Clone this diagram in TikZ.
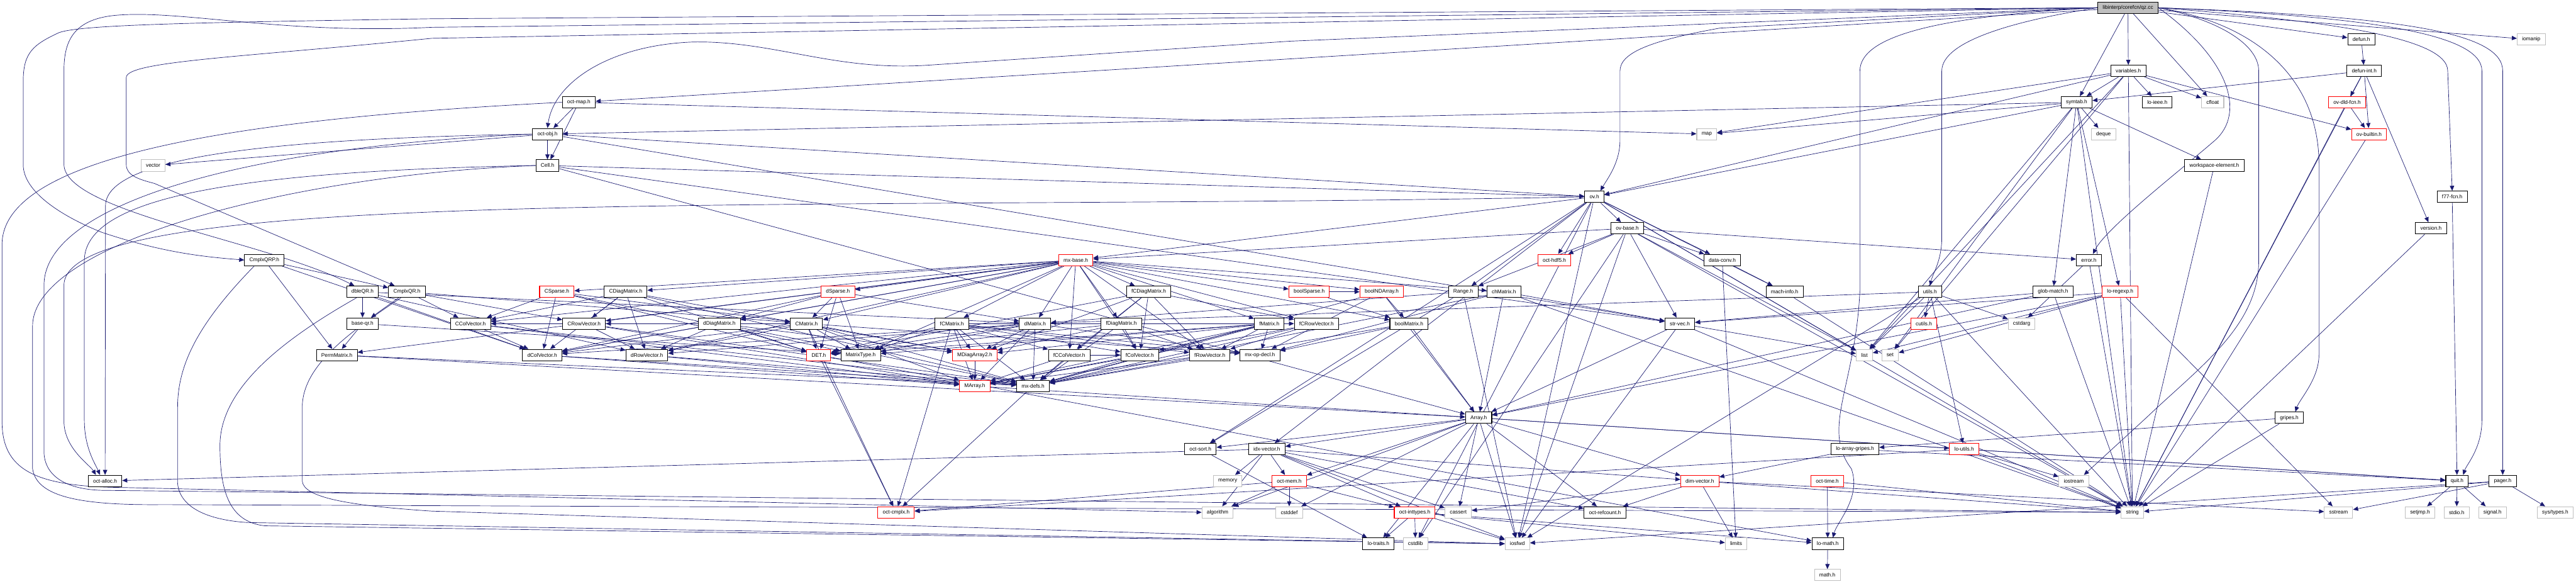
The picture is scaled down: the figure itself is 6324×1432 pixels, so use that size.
\documentclass[tikz,border=0pt]{standalone}
\usepackage{fontspec}
\setmainfont{Liberation Sans}
\usetikzlibrary{arrows.meta}
\pgfdeclarelayer{edgelayer}
\pgfsetlayers{edgelayer,main}
\definecolor{edgeblue}{HTML}{191970}
\definecolor{extgray}{HTML}{BFBFBF}
\newcommand\myedges[2]{\foreach \t in {#2} {\draw[edge] (#1) -- (\t);}}
\begin{document}
\begin{tikzpicture}[x=0.02cm,y=-0.02cm,
  box/.style={draw=black,line width=0.9pt,fill=white,minimum height=0.56cm,inner xsep=0.24cm,inner ysep=0pt,font=\fontsize{7.3}{8}\selectfont},
  trunc/.style={box,draw=red},
  ext/.style={box,draw=extgray},
  root/.style={box,fill=extgray},
  edge/.style={draw=edgeblue,line width=0.6pt,-{Triangle[length=7pt,width=6pt]}}]
\useasboundingbox (0,0) rectangle (6324,1432);
% row 0-7
\node[root] (qz) at (5224,19) {libinterp/corefcn/qz.cc};
\node[box] (defun) at (5797,97) {defun.h};
\node[ext] (iomanip) at (6214,97) {iomanip};
\node[box] (variables) at (5225,174) {variables.h};
\node[box] (defunint) at (5804,174) {defun-int.h};
\node[box] (octmap) at (1421,251) {oct-map.h};
\node[box] (symtab) at (5098,251) {symtab.h};
\node[box] (loieee) at (5296,251) {lo-ieee.h};
\node[ext] (cfloat) at (5432,251) {cfloat};
\node[trunc] (ovdld) at (5762,251) {ov-dld-fcn.h};
\node[box] (octobj) at (1344,329) {oct-obj.h};
\node[ext] (map) at (4190,329) {map};
\node[ext] (deque) at (5164,329) {deque};
\node[trunc] (ovbuiltin) at (5816,329) {ov-builtin.h};
\node[ext] (vector) at (376,406) {vector};
\node[box] (cell) at (1344,406) {Cell.h};
\node[box] (wselem) at (5436,406) {workspace-element.h};
\node[box] (ov) at (3914,483) {ov.h};
\node[box] (f77) at (6020,483) {f77-fcn.h};
\node[box] (ovbase) at (3995,560) {ov-base.h};
\node[box] (version) at (5968,560) {version.h};
% row 638
\node[box] (cqrp) at (649,638) {CmplxQRP.h};
\node[trunc] (mxbase) at (2641,638) {mx-base.h};
\node[trunc] (hdf5) at (3816,638) {oct-hdf5.h};
\node[box] (dataconv) at (4228,638) {data-conv.h};
\node[box] (error) at (5128,638) {error.h};
% row 716
\node[box] (dqr) at (890,716) {dbleQR.h};
\node[box] (cqr) at (999,716) {CmplxQR.h};
\node[trunc] (csparse) at (1367,716) {CSparse.h};
\node[box] (cdiag) at (1536,716) {CDiagMatrix.h};
\node[trunc] (dsparse) at (2057,716) {dSparse.h};
\node[box] (fcdiag) at (2820,716) {fCDiagMatrix.h};
\node[trunc] (boolsparse) at (3214,716) {boolSparse.h};
\node[trunc] (boolnd) at (3392,716) {boolNDArray.h};
\node[box] (range) at (3592,716) {Range.h};
\node[box] (chmatrix) at (3692,716) {chMatrix.h};
\node[box] (machinfo) at (4381,716) {mach-info.h};
\node[box] (utils) at (4738,716) {utils.h};
\node[box] (globmatch) at (5040,716) {glob-match.h};
\node[trunc] (loregexp) at (5205,716) {lo-regexp.h};
% row 794
\node[box] (baseqr) at (890,794) {base-qr.h};
\node[box] (ccol) at (1155,794) {CColVector.h};
\node[box] (crow) at (1434,794) {CRowVector.h};
\node[box] (ddiag) at (1766,794) {dDiagMatrix.h};
\node[box] (cmatrix) at (1980,794) {CMatrix.h};
\node[box] (fcmatrix) at (2337,794) {fCMatrix.h};
\node[box] (dmatrix) at (2541,794) {dMatrix.h};
\node[box] (fdiag) at (2753,794) {fDiagMatrix.h};
\node[box] (fmatrix) at (3116,794) {fMatrix.h};
\node[box] (fcrow) at (3232,794) {fCRowVector.h};
\node[box] (boolmatrix) at (3459,794) {boolMatrix.h};
\node[box] (strvec) at (4124,794) {str-vec.h};
\node[trunc] (cutils) at (4723,794) {cutils.h};
\node[ext] (cstdarg) at (4963,794) {cstdarg};
% row 871
\node[box] (perm) at (827,871) {PermMatrix.h};
\node[box] (dcol) at (1331,871) {dColVector.h};
\node[box] (drow) at (1588,871) {dRowVector.h};
\node[trunc] (det) at (2010,871) {DET.h};
\node[box] (mtype) at (2113,871) {MatrixType.h};
\node[trunc] (mdiag) at (2393,871) {MDiagArray2.h};
\node[box] (fccol) at (2625,871) {fCColVector.h};
\node[box] (fcol) at (2798,871) {fColVector.h};
\node[box] (frow) at (2970,871) {fRowVector.h};
\node[box] (mxop) at (3093,871) {mx-op-decl.h};
\node[ext] (list) at (4577,871) {list};
\node[ext] (set) at (4640,871) {set};
% rows 947-1411
\node[trunc] (marray) at (2393,947) {MArray.h};
\node[box] (mxdefs) at (2536,947) {mx-defs.h};
\node[box] (array) at (3630,1025) {Array.h};
\node[box] (gripes) at (5620,1025) {gripes.h};
\node[box] (octsort) at (2947,1102) {oct-sort.h};
\node[box] (idxvec) at (3110,1102) {idx-vector.h};
\node[box] (loagripes) at (4554,1102) {lo-array-gripes.h};
\node[trunc] (loutils) at (4822,1102) {lo-utils.h};
\node[box] (octalloc) at (258,1180) {oct-alloc.h};
\node[ext] (memory) at (3014,1180) {memory};
\node[trunc] (octmem) at (3165,1180) {oct-mem.h};
\node[trunc] (dimvec) at (4173,1180) {dim-vector.h};
\node[trunc] (octtime) at (4486,1180) {oct-time.h};
\node[ext] (iostream) at (5091,1180) {iostream};
\node[box] (quit) at (6032,1180) {quit.h};
\node[box] (pager) at (6144,1180) {pager.h};
\node[trunc] (octcmplx) at (2200,1257) {oct-cmplx.h};
\node[ext] (algorithm) at (2989,1257) {algorithm};
\node[ext] (cstddef) at (3165,1257) {cstddef};
\node[trunc] (inttypes) at (3473,1257) {oct-inttypes.h};
\node[ext] (cassert) at (3580,1257) {cassert};
\node[box] (refcount) at (3940,1257) {oct-refcount.h};
\node[ext] (string) at (5235,1257) {string};
\node[ext] (sstream) at (5741,1257) {sstream};
\node[ext] (setjmp) at (5941,1257) {setjmp.h};
\node[ext] (stdio) at (6031,1257) {stdio.h};
\node[ext] (signal) at (6119,1257) {signal.h};
\node[ext] (systypes) at (6273,1257) {sys/types.h};
\node[box] (lotraits) at (3384,1334) {lo-traits.h};
\node[ext] (cstdlib) at (3475,1334) {cstdlib};
\node[ext] (iosfwd) at (3725,1334) {iosfwd};
\node[ext] (limits) at (4262,1334) {limits};
\node[box] (lomath) at (4487,1334) {lo-math.h};
\node[ext] (mathh) at (4486,1411) {math.h};

\begin{pgfonlayer}{edgelayer}
% straight edges
\myedges{qz}{defun,iomanip,variables,symtab,cfloat,octmap}
\myedges{variables}{symtab,loieee,cfloat,ovbuiltin,ov,map,list,set,string}
\myedges{defun}{defunint}
\myedges{defunint}{ovdld,ovbuiltin,symtab,version,string}
\myedges{ovdld}{ovbuiltin,string}
\myedges{ovbuiltin}{string}
\myedges{version}{string}
\myedges{f77}{quit}
\myedges{pager}{sstream,string,systypes,iosfwd}
\myedges{gripes}{loagripes,string}
\myedges{quit}{setjmp,stdio,signal}
\myedges{error}{cstdarg,string}
\myedges{utils}{cutils,cstdarg,list,loutils,string,iosfwd,dmatrix}
\myedges{symtab}{deque,globmatch,loregexp,list,set,map,string,wselem,ov,octobj}
\myedges{wselem}{string}
\myedges{octmap}{octobj,cell,map}
\myedges{octobj}{cell,vector,strvec,ov}
\myedges{cell}{array,strvec,ov}
\myedges{ov}{ovbase,hdf5,range,dataconv,mxbase,machinfo,idxvec,octsort,string,list,iosfwd,cstdlib}
\myedges{ovbase}{hdf5,dataconv,range,mxbase,error,strvec,string,list,iosfwd,cstdlib}
\myedges{dataconv}{machinfo,limits}
\myedges{machinfo}{string}
\myedges{mxbase}{mtype,boolmatrix,boolnd,chmatrix,dcol,drow,dmatrix,ccol,crow,cmatrix,fcol,frow,fmatrix,fccol,fcrow,fcmatrix,ddiag,cdiag,fdiag,fcdiag,perm,boolsparse,csparse,dsparse}
\myedges{csparse}{ccol,cmatrix,dcol,det,mtype}
\myedges{dsparse}{dcol,dmatrix,ddiag,det,mtype,cmatrix}
\myedges{cdiag}{mdiag,drow,crow,dcol,ccol,det,mxdefs}
\myedges{fcdiag}{mdiag,frow,fcrow,fcol,fccol,det,mxdefs}
\myedges{ddiag}{mdiag,drow,dcol,det,mxdefs}
\myedges{fdiag}{mdiag,frow,fcol,det,mxdefs}
\myedges{ccol}{marray,dcol,mxdefs}
\myedges{crow}{marray,drow,mxdefs}
\myedges{dcol}{marray,mxdefs}
\myedges{drow}{marray,mxdefs}
\myedges{fcol}{marray,mxdefs}
\myedges{frow}{marray,mxdefs}
\myedges{fccol}{marray,fcol,mxdefs}
\myedges{fcrow}{marray,frow,mxdefs}
\myedges{cmatrix}{marray,mdiag,drow,dcol,crow,ccol,det,mtype,mxdefs,mxop,octcmplx}
\myedges{dmatrix}{marray,mdiag,drow,dcol,det,mtype,mxdefs,mxop}
\myedges{fmatrix}{marray,mdiag,frow,fcol,det,mtype,mxdefs,mxop}
\myedges{fcmatrix}{marray,mdiag,frow,fcol,fcrow,fccol,det,mtype,mxdefs,mxop,octcmplx}
\myedges{boolmatrix}{array,mxdefs,mxop}
\myedges{boolnd}{boolmatrix,array,mxop,mxdefs}
\myedges{boolsparse}{boolmatrix,boolnd}
\myedges{chmatrix}{array,mxdefs,mxop,strvec,string}
\myedges{range}{iosfwd,dmatrix,octsort}
\myedges{mdiag}{marray}
\myedges{marray}{array}
\myedges{mxdefs}{octcmplx}
\myedges{det}{octcmplx,lomath}
\myedges{baseqr}{perm,mtype}
\myedges{perm}{array,mxdefs}
\myedges{dqr}{dmatrix,dcol,drow,baseqr}
\myedges{cqr}{cmatrix,ccol,crow,baseqr}
\myedges{cqrp}{cqr,perm,dcol}
\myedges{strvec}{array,iosfwd,list,string}
\myedges{globmatch}{array,strvec,string}
\myedges{loregexp}{list,set,sstream,string,array,strvec}
\myedges{array}{cassert,cstddef,algorithm,iosfwd,dimvec,idxvec,lotraits,loutils,octsort,octmem,refcount,quit}
\myedges{idxvec}{cassert,algorithm,iosfwd,memory,dimvec,inttypes,octalloc,octmem,refcount}
\myedges{octsort}{lotraits}
\myedges{octmem}{cstddef,algorithm,octcmplx,inttypes}
\myedges{dimvec}{cassert,limits,sstream,string,refcount}
\myedges{inttypes}{cstdlib,limits,iosfwd,lotraits,lomath}
\myedges{lomath}{mathh}
\myedges{loutils}{iostream,string,octcmplx,quit}
\myedges{loagripes}{dimvec,quit}
\myedges{octtime}{lomath,string}
% curved edges from the root
\draw[edge] (qz.west) -- (1060,67) .. controls (700,85) and (450,25) .. (291,37) .. controls (180,45) and (157,100) .. (157,174) -- (157,404) .. controls (160,520) and (650,590) .. ([xshift=-0.4cm]dqr.north);
\draw[edge] (qz.west) -- (1060,46) .. controls (500,55) and (200,60) .. (145,80) .. controls (80,110) and (57,130) .. (57,200) -- (57,404) .. controls (57,470) and (150,530) .. (250,570) .. controls (400,620) and (500,630) .. (cqrp.west);
\draw[edge] (qz.west) -- (1060,94) .. controls (600,140) and (310,150) .. (310,190) -- (310,404) .. controls (310,430) and (340,440) .. (379,450) -- ([xshift=-0.6cm]cqr.north);
\draw[edge] (qz.west) -- (3168,101) -- (2277,160) .. controls (2050,175) and (1900,100) .. (1703,103) .. controls (1500,110) and (1360,200) .. (octobj.north);
\draw[edge] (qz.west) -- (4222,69) .. controls (4050,100) and (3977,130) .. (3977,174) -- (3977,344) .. controls (3977,400) and (3945,440) .. ([xshift=0.3cm]ov.north);
\draw[edge] (qz.west) .. controls (4950,50) and (4767,100) .. (4767,174) -- (4767,583) .. controls (4767,640) and (4745,670) .. (utils.north);
\draw[edge] (qz.west) .. controls (4750,40) and (4566,90) .. (4566,174) -- (4566,712) .. controls (4555,950) and (4470,1050) .. (4545,1150) .. controls (4570,1220) and (4510,1280) .. ([xshift=0.25cm]lomath.north);
\draw[edge] (qz.east) .. controls (5550,60) and (5693,200) .. (5693,404) -- (5693,870) .. controls (5693,930) and (5645,980) .. ([xshift=0.3cm]gripes.north);
\draw[edge] (qz.east) .. controls (5700,50) and (6009,90) .. (6009,174) -- (f77.north);
\draw[edge] (qz.east) .. controls (5800,40) and (6093,80) .. (6093,174) -- (6093,1030) .. controls (6093,1100) and (6055,1140) .. ([xshift=0.3cm]quit.north);
\draw[edge] (qz.east) .. controls (5900,40) and (6144,80) .. (6144,174) -- (pager.north);
\draw[edge] (qz.east) .. controls (5450,50) and (5545,110) .. (5545,174) -- (5545,640) .. controls (5545,800) and (5400,900) .. (5270,1024) -- ([xshift=0.5cm]iostream.north);
\draw[edge] (qz.east) .. controls (5480,150) and (5510,280) .. (5438,344) .. controls (5350,420) and (5170,560) .. ([xshift=0.2cm]error.north);
% curved edges round the left side
\draw[edge] (octobj.west) .. controls (700,340) and (259,380) .. (259,505) -- (octalloc.north);
\draw[edge] (cell.west) .. controls (600,420) and (207,480) .. (207,640) -- (207,1030) .. controls (207,1100) and (235,1140) .. ([xshift=-0.25cm]octalloc.north);
\draw[edge] (ov.west) .. controls (2000,520) and (157,450) .. (157,700) -- (157,1033) .. controls (157,1100) and (220,1140) .. ([xshift=-0.45cm]octalloc.north);
\draw[edge] (octmap.west) .. controls (600,290) and (5,380) .. (5,600) -- (5,1033) .. controls (5,1150) and (80,1194) .. (300,1196) -- (algorithm.west);
\draw[edge] (octobj.west) .. controls (600,360) and (108,500) .. (108,700) -- (108,1111) .. controls (110,1160) and (150,1200) .. (250,1203) -- (string.west);
\draw[edge] (cell.west) .. controls (700,430) and (80,600) .. (80,800) -- (80,1150) .. controls (90,1220) and (200,1240) .. (400,1238) -- (string.west);
\draw[edge] ([xshift=-0.5cm]cqrp.south) .. controls (480,800) and (436,900) .. (436,1000) -- (436,1185) .. controls (440,1240) and (500,1275) .. (608,1282) -- (iosfwd.west);
\draw[edge] ([xshift=-0.3cm]dqr.south) .. controls (700,830) and (540,950) .. (540,1093) .. controls (540,1200) and (560,1280) .. (650,1290) -- (iosfwd.west);
\draw[edge] ([xshift=-0.3cm]cqr.south) .. controls (850,820) and (742,900) .. (742,1000) -- (742,1180) .. controls (745,1220) and (850,1240) .. (1060,1254) -- (iosfwd.west);
\end{pgfonlayer}
\end{tikzpicture}
\end{document}
